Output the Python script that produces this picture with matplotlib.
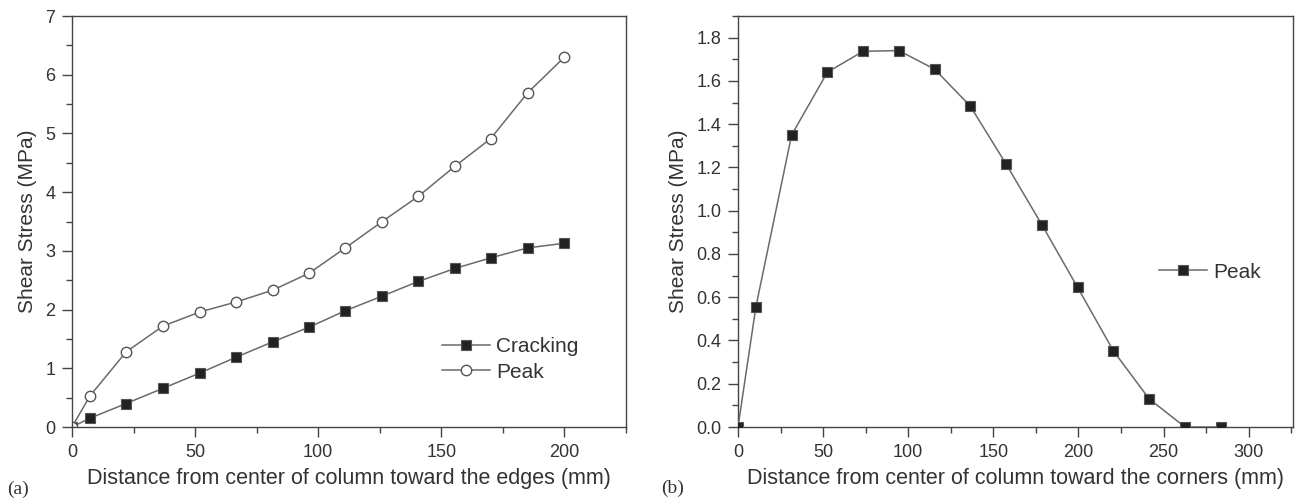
import matplotlib.pyplot as plt
from matplotlib.ticker import MultipleLocator

plt.rcParams['font.family'] = ['Liberation Sans', 'DejaVu Sans']

# panel (a): distance toward the edges
edge_x = [0, 7.3, 22, 37, 52, 66.7, 81.5, 96.3, 111, 126, 140.7, 155.5, 170, 185, 200]
edge_crack = [0, 0.15, 0.40, 0.66, 0.92, 1.19, 1.45, 1.70, 1.98, 2.23, 2.48, 2.70, 2.88, 3.05, 3.13]
edge_peak = [0, 0.53, 1.28, 1.72, 1.96, 2.13, 2.33, 2.62, 3.05, 3.50, 3.93, 4.44, 4.91, 5.69, 6.30]

# panel (b): distance toward the corners
corner_x = [0, 10.5, 31.5, 52.5, 73.5, 94.5, 115.5, 136.5, 157.5, 178.5, 199.5, 220.5, 241.5, 262.5, 283.5]
corner_peak = [0, 0.555, 1.35, 1.64, 1.737, 1.74, 1.654, 1.483, 1.215, 0.935, 0.645, 0.352, 0.13, 0, 0]

line_col = "#6a6a6a"
mark_col = "#222222"
text_col = "#333333"

fig = plt.figure(figsize=(13.02, 5.01), dpi=100)

ax1 = fig.add_axes([72 / 1302, 74 / 501, 554 / 1302, 411 / 501])
ax2 = fig.add_axes([738 / 1302, 74 / 501, 555 / 1302, 411 / 501])

ax1.plot(
    edge_x, edge_crack,
    color=line_col, lw=1.1,
    marker="s", ms=7, mfc=mark_col, mec="#555555", mew=0.8,
    label="Cracking"
)
ax1.plot(
    edge_x, edge_peak,
    color=line_col, lw=1.1,
    marker="o", ms=7.5, mfc="white", mec="#555555", mew=1.0,
    label="Peak"
)

ax2.plot(
    corner_x, corner_peak,
    color=line_col, lw=1.1,
    marker="s", ms=7, mfc=mark_col, mec="#555555", mew=0.8,
    label="Peak", zorder=3
)

ax1.set_xlim(0, 225)
ax1.set_ylim(0, 7)
ax1.set_xticks([0, 50, 100, 150, 200])
ax1.xaxis.set_minor_locator(MultipleLocator(25))
ax1.yaxis.set_major_locator(MultipleLocator(1))
ax1.yaxis.set_minor_locator(MultipleLocator(0.5))

ax2.set_xlim(0, 326)
ax2.set_ylim(0, 1.9)
ax2.set_xticks([0, 50, 100, 150, 200, 250, 300])
ax2.xaxis.set_minor_locator(MultipleLocator(25))
ax2.set_yticks([0.0, 0.2, 0.4, 0.6, 0.8, 1.0, 1.2, 1.4, 1.6, 1.8])
ax2.yaxis.set_minor_locator(MultipleLocator(0.1))
ax2.yaxis.set_major_formatter(plt.FormatStrFormatter("%.1f"))

for ax in (ax1, ax2):
    for sp in ax.spines.values():
        sp.set_color("#444444")
        sp.set_linewidth(1.0)
    ax.tick_params(
        which="major", direction="out", length=7, width=1,
        color="#444444", labelsize=13, labelcolor=text_col, pad=5
    )
    ax.tick_params(which="minor", direction="out", length=4, width=1, color="#444444")
    ax.set_ylabel("Shear Stress (MPa)", fontsize=15, color=text_col, labelpad=6)

ax1.set_xlabel("Distance from center of column toward the edges (mm)",
               fontsize=15.5, color=text_col, labelpad=5)
ax2.set_xlabel("Distance from center of column toward the corners (mm)",
               fontsize=15.5, color=text_col, labelpad=5)

ax1.legend(
    loc="center left", bbox_to_anchor=(0.668, 0.164),
    frameon=False, fontsize=15, handlelength=2.3,
    borderpad=0, borderaxespad=0,
    labelspacing=0.3, handletextpad=0.3, labelcolor=text_col
)
ax2.legend(
    loc="center left", bbox_to_anchor=(0.759, 0.377),
    frameon=False, fontsize=15, handlelength=2.3,
    borderpad=0, borderaxespad=0,
    handletextpad=0.3, labelcolor=text_col
)

fig.text(7 / 1302, 1 - 489 / 501, "(a)", family="Liberation Serif",
         fontsize=14, color=text_col, va="center")
fig.text(661 / 1302, 1 - 488 / 501, "(b)", family="Liberation Serif",
         fontsize=14, color=text_col, va="center")

fig.savefig("out.png", dpi=100)
plt.close(fig)
